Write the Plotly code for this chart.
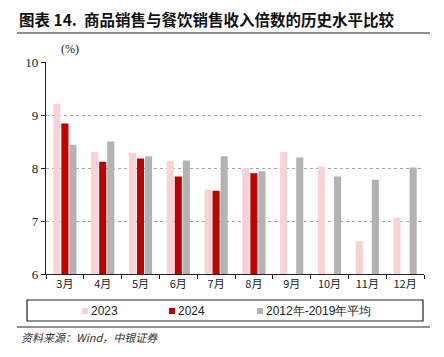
import plotly.graph_objects as go

months = ["3月", "4月", "5月", "6月", "7月", "8月", "9月", "10月", "11月", "12月"]
v2023 = [9.21, 8.30, 8.29, 8.13, 7.59, 8.00, 8.30, 8.03, 6.62, 7.06]
v2024 = [8.84, 8.12, 8.18, 7.84, 7.57, 7.90, None, None, None, None]
vavg = [8.44, 8.50, 8.22, 8.14, 8.22, 7.94, 8.20, 7.84, 7.78, 8.01]
names = ["2023", "2024", "2012年-2019年平均"]
colors = ["#F9D2D8", "#C00000", "#B3B3B3"]

OFF = 8  # page body margin in the browser
W, H = 444 - OFF, 357 - OFF
L, R, T, B = 46 - OFF, 20, 62 - OFF, 83
pw, ph = W - L - R, H - T - B

def px(x):
    return (x - OFF - L) / pw

def py(y):
    return (H - B - (y - OFF)) / ph

fig = go.Figure()
for nm, vals, c in zip(names, [v2023, v2024, vavg], colors):
    fig.add_trace(go.Bar(x=months, y=vals, name=nm, marker=dict(color=c, line=dict(width=0))))

fig.update_layout(
    width=W, height=H,
    margin=dict(l=L, r=R, t=T, b=B, autoexpand=False),
    paper_bgcolor="white", plot_bgcolor="white",
    barmode="group", bargap=0.36, bargroupgap=0.12,
    showlegend=False,
    font=dict(family="Liberation Sans, Arial", size=11, color="#222"),
)
fig.update_xaxes(
    type="category", showline=True, linecolor="#222", linewidth=1.2,
    ticks="outside", tickson="boundaries", ticklen=4, tickcolor="#222",
    tickfont=dict(family="Noto Sans CJK SC", size=11, color="#222"),
    showgrid=False, mirror=False, automargin=False,
)
fig.update_yaxes(
    range=[6, 10], dtick=1, showline=True, linecolor="#222", linewidth=1.2,
    ticks="outside", ticklen=4, tickcolor="#222",
    tickfont=dict(family="Liberation Serif, Times New Roman", size=13, color="#222"),
    showgrid=True, gridcolor="#A8A8A8", griddash="dot", gridwidth=1,
    zeroline=False, automargin=False,
)

shapes = [
    dict(type="line", xref="paper", yref="paper", x0=px(17), x1=px(430), y0=py(33), y1=py(33),
         line=dict(color="#222", width=1.2)),
    dict(type="rect", xref="paper", yref="paper", x0=px(27), x1=px(423), y0=py(300), y1=py(321),
         line=dict(color="#222", width=1.2)),
    dict(type="line", xref="paper", yref="paper", x0=px(17), x1=px(430), y0=py(327), y1=py(327),
         line=dict(color="#222", width=1.2)),
]
annotations = [
    dict(text="<b>图表 14.  商品销售与餐饮销售收入倍数的历史水平比较</b>", xref="paper", yref="paper",
         x=px(18), y=py(19), xanchor="left", yanchor="middle", showarrow=False, borderpad=0,
         font=dict(family="Noto Sans CJK SC", size=15.5, color="#111")),
    dict(text="(%)", xref="paper", yref="paper", x=px(70), y=py(49), xanchor="center", yanchor="middle",
         showarrow=False, font=dict(family="Liberation Serif", size=12, color="#222")),
    dict(text="<i>资料来源：Wind，中银证券</i>", xref="paper", yref="paper", x=px(19), y=py(337),
         xanchor="left", yanchor="middle", showarrow=False,
         font=dict(family="Noto Sans CJK SC", size=11, color="#333")),
]

# manual legend
leg_x = [82, 169, 257]
leg_y = 311
for lx, nm, c in zip(leg_x, names, colors):
    shapes.append(dict(type="rect", xref="paper", yref="paper",
                       x0=px(lx), x1=px(lx + 6), y0=py(leg_y + 3), y1=py(leg_y - 3),
                       fillcolor=c, line=dict(width=0)))
    annotations.append(dict(text=nm, xref="paper", yref="paper", x=px(lx + 7), y=py(leg_y),
                            xanchor="left", yanchor="middle", showarrow=False,
                            font=dict(family="Liberation Sans, Arial", size=12, color="#222")))

fig.update_layout(shapes=shapes, annotations=annotations)

fig.write_html("out.html")
